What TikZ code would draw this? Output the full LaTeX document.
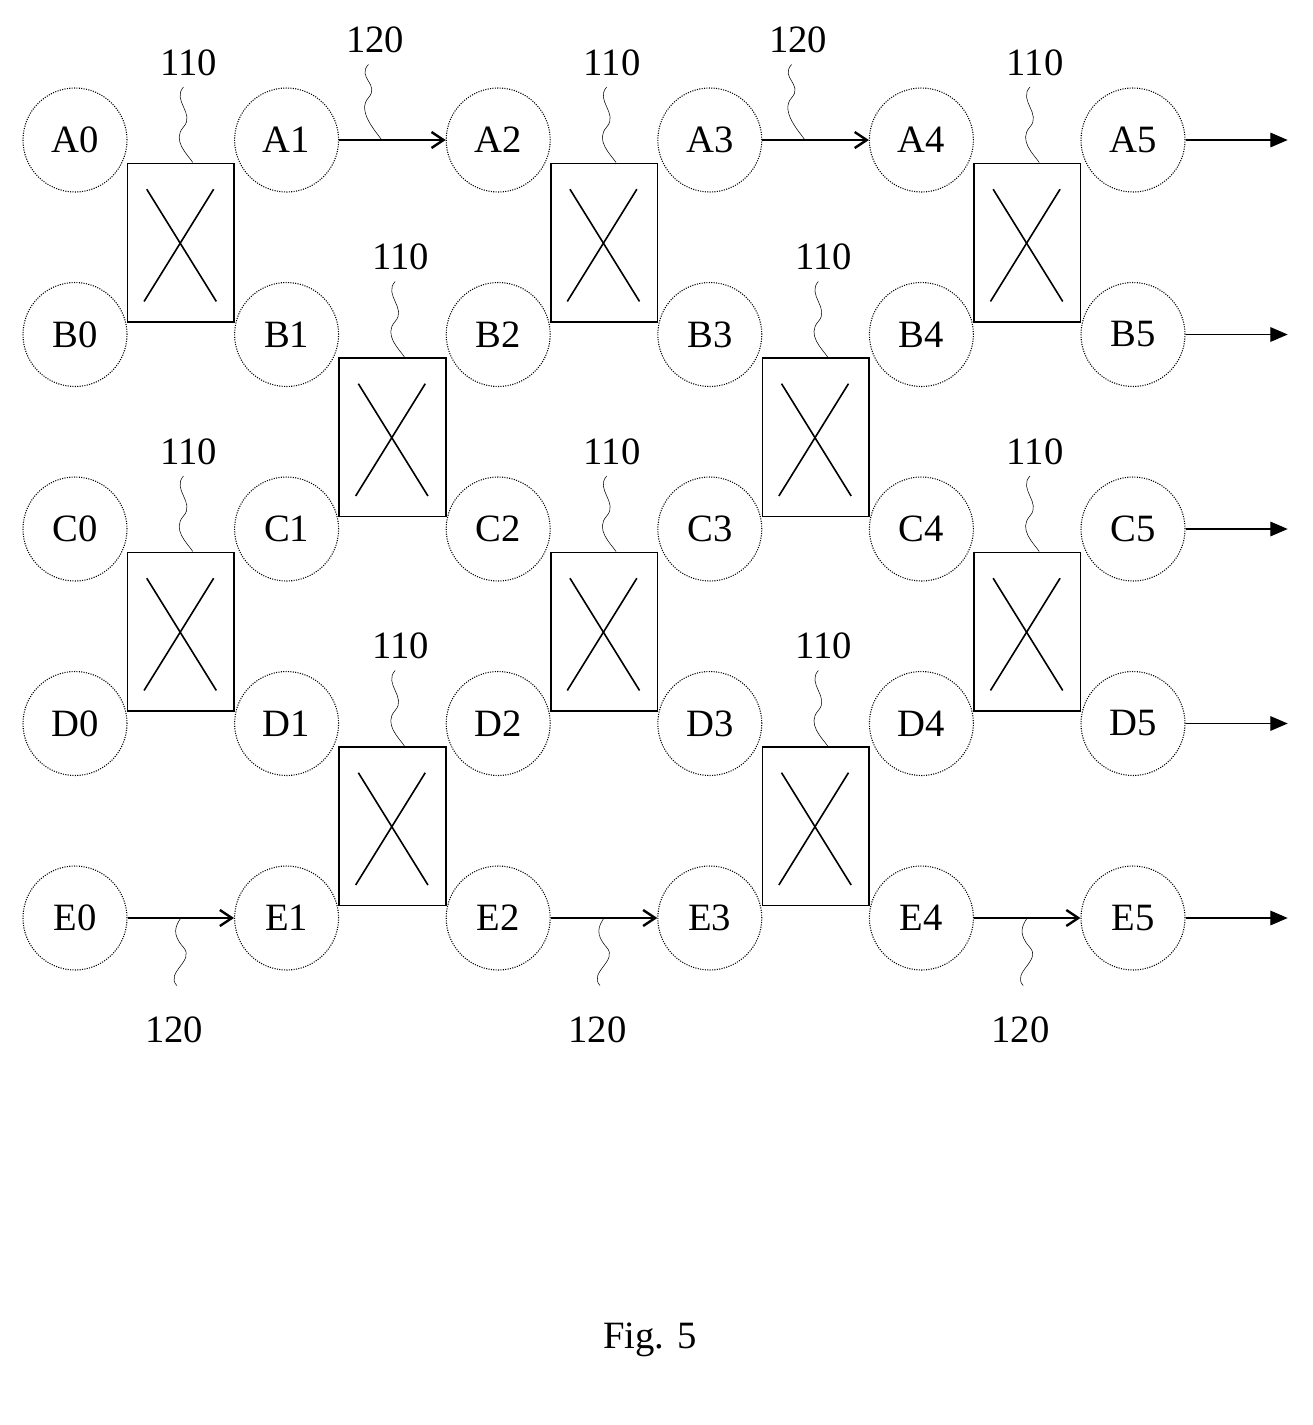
\documentclass[tikz,border=0pt]{standalone}
\usepackage{fontspec}
\setmainfont{Liberation Serif}
\usetikzlibrary{arrows.meta}
\tikzset{
  cell/.style={draw, circle, densely dotted, thick, minimum size=78pt, inner sep=0pt, font=\fontsize{29}{34}\selectfont},
  switch/.style={draw, very thick, minimum width=80pt, minimum height=119pt, inner sep=0pt},
  link/.style={line width=2.2pt, -{Straight Barb[length=9pt,width=12pt,line width=1.8pt]}},
  exit/.style={thick, -{Triangle[length=13pt,width=11pt]}},
  tag/.style={font=\fontsize{29}{34}\selectfont},
  wave/.style={thin}
}
\begin{document}
\begin{tikzpicture}[x=0.75pt, y=-0.75pt]
\useasboundingbox (0,0) rectangle (1313,1425);
% cells
\foreach \r [count=\i from 0] in {A,B,C,D,E}{
  \foreach \c in {0,...,5}{
    \node[cell] (\r\c) at (75+211.6*\c, 140+194.5*\i) {\r\c};
  }
}
% switches
\foreach \c/\r/\n in {0/A/1, 0/C/2, 1/B/3, 1/D/4, 2/A/5, 2/C/6, 3/B/7, 3/D/8, 4/A/9, 4/C/10}{
  \node[switch] (s\n) at ([shift={(79.4pt,-77pt)}]\r\c.center) {};
  \draw[very thick] ([shift={(15pt,-20pt)}]s\n.north west) -- ([shift={(-14pt,16pt)}]s\n.south east);
  \draw[very thick] ([shift={(-16pt,-20pt)}]s\n.north east) -- ([shift={(13pt,16pt)}]s\n.south west);
  \node[tag] (t\n) at ([shift={(6pt,75pt)}]s\n.north) {110};
  \coordinate (w\n) at ([shift={(9pt,0pt)}]s\n.north);
  \draw[wave] ([shift={(-4pt,-5pt)}]t\n.south) .. controls +(-9pt,-10pt) and +(9pt,10pt) .. ++(0pt,-30pt)
    .. controls +(-9pt,-10pt) and +(-4pt,6pt) .. (w\n);
}
% links
\foreach \a/\b/\n in {A1/A2/1, A3/A4/2}{
  \draw[link] (\a) -- (\b) coordinate[pos=0.4] (p\n);
  \node[tag] (l\n) at ([shift={(-5pt,75pt)}]p\n) {120};
  \draw[wave] ([shift={(-5pt,-5pt)}]l\n.south) .. controls +(-9pt,-10pt) and +(9pt,10pt) .. ++(0pt,-25pt)
    .. controls +(-9pt,-10pt) and +(-4pt,6pt) .. (p\n);
}
\foreach \a/\b/\n in {E0/E1/3, E2/E3/4, E4/E5/5}{
  \draw[link] (\a) -- (\b) coordinate[pos=0.5] (p\n);
  \node[tag] (l\n) at ([shift={(-5pt,-84pt)}]p\n) {120};
  \draw[wave] (p\n) .. controls +(-4pt,-6pt) and +(-9pt,10pt) .. ++(2pt,-22pt)
    .. controls +(9pt,-10pt) and +(-9pt,10pt) .. ([shift={(2pt,20pt)}]l\n.north);
}
% outputs
\foreach \r in {A,B,C,D,E}{
  \coordinate (o\r) at ([shift={(116pt,0pt)}]\r5.center);
  \draw[exit] (\r5) -- (o\r);
}
\node[tag] (fig) at (650,1340) {Fig. 5};
\end{tikzpicture}
\end{document}
